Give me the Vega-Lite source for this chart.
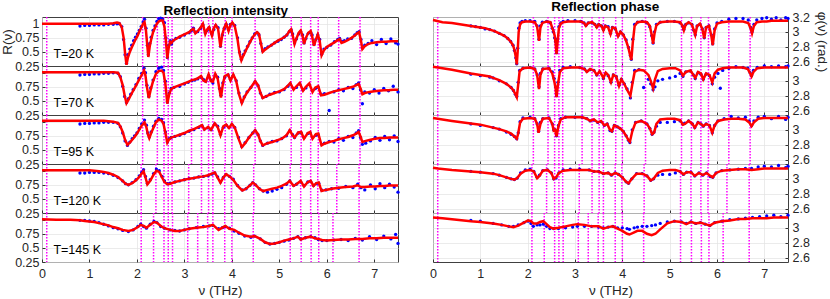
{
"$schema":"https://vega.github.io/schema/vega-lite/v6.json",
"padding":{"left":0,"top":0,"right":0,"bottom":0},
"config":{"font":"Liberation Sans","view":{"stroke":"#404040","strokeWidth":1},
"axis":{"domain":false,"grid":true,"gridColor":"#e3e3e3","gridWidth":0.7,"tickColor":"#333333","tickSize":-3,"labelFontSize":12.5,"labelColor":"#262626","titleFontSize":13.5,"titleFontWeight":"normal","titleColor":"#262626","labelFont":"Liberation Sans","titleFont":"Liberation Sans","labelOverlap":false,"labelFlush":false,"tickCount":12},
"title":{"font":"Liberation Sans"}},
"datasets":{
"modes":[
{"T":20,"f":0.1},{"T":20,"f":2.12},{"T":20,"f":2.43},{"T":20,"f":2.57},{"T":20,"f":2.66},{"T":20,"f":2.74},{"T":20,"f":3.15},{"T":20,"f":3.36},{"T":20,"f":3.51},{"T":20,"f":3.6},{"T":20,"f":3.86},{"T":20,"f":4.0},{"T":20,"f":4.49},{"T":20,"f":5.25},{"T":20,"f":5.46},{"T":20,"f":5.66},{"T":20,"f":5.82},{"T":20,"f":6.25},{"T":20,"f":6.7},
{"T":70,"f":0.1},{"T":70,"f":2.12},{"T":70,"f":2.43},{"T":70,"f":2.57},{"T":70,"f":2.66},{"T":70,"f":2.74},{"T":70,"f":3.15},{"T":70,"f":3.36},{"T":70,"f":3.51},{"T":70,"f":3.6},{"T":70,"f":3.86},{"T":70,"f":4.0},{"T":70,"f":4.49},{"T":70,"f":5.25},{"T":70,"f":5.46},{"T":70,"f":5.66},{"T":70,"f":5.82},{"T":70,"f":6.25},{"T":70,"f":6.7},
{"T":95,"f":0.1},{"T":95,"f":2.12},{"T":95,"f":2.43},{"T":95,"f":2.57},{"T":95,"f":2.66},{"T":95,"f":2.74},{"T":95,"f":3.15},{"T":95,"f":3.36},{"T":95,"f":3.51},{"T":95,"f":3.6},{"T":95,"f":3.86},{"T":95,"f":4.0},{"T":95,"f":4.49},{"T":95,"f":5.25},{"T":95,"f":5.46},{"T":95,"f":5.66},{"T":95,"f":5.82},{"T":95,"f":6.25},{"T":95,"f":6.7},
{"T":120,"f":0.1},{"T":120,"f":2.09},{"T":120,"f":2.4},{"T":120,"f":2.57},{"T":120,"f":2.66},{"T":120,"f":2.74},{"T":120,"f":3.09},{"T":120,"f":3.36},{"T":120,"f":3.51},{"T":120,"f":3.6},{"T":120,"f":3.85},{"T":120,"f":3.99},{"T":120,"f":4.46},{"T":120,"f":5.23},{"T":120,"f":5.45},{"T":120,"f":5.66},{"T":120,"f":5.81},{"T":120,"f":6.21},{"T":120,"f":6.68},
{"T":145,"f":0.1},{"T":145,"f":2.09},{"T":145,"f":2.35},{"T":145,"f":2.57},{"T":145,"f":2.66},{"T":145,"f":2.75},{"T":145,"f":3.07},{"T":145,"f":3.28},{"T":145,"f":3.49},{"T":145,"f":3.6},{"T":145,"f":3.85},{"T":145,"f":4.0},{"T":145,"f":4.45},{"T":145,"f":5.23},{"T":145,"f":5.46},{"T":145,"f":5.67},{"T":145,"f":5.83},{"T":145,"f":6.13},{"T":145,"f":6.68}],
"R":[
{"T":20,"f":0,"v":1},{"T":20,"f":0.2,"v":1},{"T":20,"f":0.4,"v":1},{"T":20,"f":0.6,"v":1},{"T":20,"f":0.8,"v":1,"m":0.96},{"T":20,"f":0.9,"v":1,"m":0.97},{"T":20,"f":1,"v":1,"m":0.97},{"T":20,"f":1.1,"v":1,"m":0.98},{"T":20,"f":1.2,"v":1,"m":0.98},{"T":20,"f":1.3,"v":1,"m":0.98},{"T":20,"f":1.4,"v":1,"m":0.99},{"T":20,"f":1.5,"v":1.01,"m":0.99},{"T":20,"f":1.58,"v":1.02,"m":1},{"T":20,"f":1.63,"v":1.01,"m":1},{"T":20,"f":1.68,"v":0.94,"m":0.95},{"T":20,"f":1.72,"v":0.75,"m":0.72},{"T":20,"f":1.75,"v":0.48,"m":0.45},{"T":20,"f":1.78,"v":0.27,"m":0.3},{"T":20,"f":1.81,"v":0.4,"m":0.45},{"T":20,"f":1.85,"v":0.5,"m":0.55},{"T":20,"f":1.89,"v":0.58,"m":0.62},{"T":20,"f":1.93,"v":0.65,"m":0.7},{"T":20,"f":1.97,"v":0.72,"m":0.76},{"T":20,"f":2.01,"v":0.78,"m":0.82},{"T":20,"f":2.05,"v":0.86,"m":0.88},{"T":20,"f":2.09,"v":0.93,"m":0.95},{"T":20,"f":2.13,"v":1,"m":1.03},{"T":20,"f":2.16,"v":1.03,"m":1.08},{"T":20,"f":2.19,"v":0.88,"m":0.92},{"T":20,"f":2.22,"v":0.6,"m":0.62},{"T":20,"f":2.24,"v":0.41,"m":0.45},{"T":20,"f":2.27,"v":0.6,"m":0.65},{"T":20,"f":2.3,"v":0.72,"m":0.76},{"T":20,"f":2.34,"v":0.85,"m":0.88},{"T":20,"f":2.38,"v":0.93,"m":0.96},{"T":20,"f":2.42,"v":1,"m":1.04},{"T":20,"f":2.46,"v":1.04,"m":1.09},{"T":20,"f":2.5,"v":1.06,"m":1.1},{"T":20,"f":2.54,"v":1.06,"m":1.08},{"T":20,"f":2.58,"v":0.95,"m":1.02},{"T":20,"f":2.61,"v":0.7,"m":0.75},{"T":20,"f":2.64,"v":0.38,"m":0.4},{"T":20,"f":2.67,"v":0.58,"m":0.62},{"T":20,"f":2.7,"v":0.68,"m":0.7},{"T":20,"f":2.73,"v":0.66,"m":0.64},{"T":20,"f":2.76,"v":0.7,"m":0.7},{"T":20,"f":2.82,"v":0.73,"m":0.74},{"T":20,"f":2.9,"v":0.77,"m":0.76},{"T":20,"f":3,"v":0.81,"m":0.8},{"T":20,"f":3.1,"v":0.85,"m":0.84},{"T":20,"f":3.15,"v":0.89,"m":0.88},{"T":20,"f":3.19,"v":0.91,"m":0.92},{"T":20,"f":3.23,"v":0.83,"m":0.85},{"T":20,"f":3.28,"v":0.87,"m":0.86},{"T":20,"f":3.34,"v":0.93,"m":0.92},{"T":20,"f":3.39,"v":1,"m":0.98},{"T":20,"f":3.44,"v":0.82,"m":0.84},{"T":20,"f":3.48,"v":0.9,"m":0.88},{"T":20,"f":3.52,"v":0.94,"m":0.93},{"T":20,"f":3.58,"v":0.79,"m":0.82},{"T":20,"f":3.62,"v":0.92,"m":0.9},{"T":20,"f":3.66,"v":0.98,"m":0.97},{"T":20,"f":3.71,"v":0.91,"m":0.93},{"T":20,"f":3.76,"v":0.58,"m":0.6},{"T":20,"f":3.8,"v":0.82,"m":0.8},{"T":20,"f":3.84,"v":0.93,"m":0.92},{"T":20,"f":3.88,"v":1,"m":0.99},{"T":20,"f":3.93,"v":0.87,"m":0.9},{"T":20,"f":3.97,"v":0.98,"m":0.99},{"T":20,"f":4.01,"v":1.02,"m":1},{"T":20,"f":4.06,"v":0.96,"m":0.97},{"T":20,"f":4.12,"v":0.72,"m":0.75},{"T":20,"f":4.16,"v":0.48,"m":0.5},{"T":20,"f":4.2,"v":0.35,"m":0.37},{"T":20,"f":4.24,"v":0.43,"m":0.45},{"T":20,"f":4.28,"v":0.5,"m":0.52},{"T":20,"f":4.33,"v":0.59,"m":0.6},{"T":20,"f":4.38,"v":0.67,"m":0.68},{"T":20,"f":4.43,"v":0.75,"m":0.75},{"T":20,"f":4.48,"v":0.81,"m":0.82},{"T":20,"f":4.53,"v":0.85,"m":0.84},{"T":20,"f":4.57,"v":0.82,"m":0.8},{"T":20,"f":4.61,"v":0.66,"m":0.65},{"T":20,"f":4.65,"v":0.5,"m":0.52},{"T":20,"f":4.7,"v":0.54,"m":0.56},{"T":20,"f":4.76,"v":0.58,"m":0.59},{"T":20,"f":4.83,"v":0.62,"m":0.62},{"T":20,"f":4.9,"v":0.66,"m":0.66},{"T":20,"f":4.97,"v":0.7,"m":0.69},{"T":20,"f":5.04,"v":0.73,"m":0.72},{"T":20,"f":5.1,"v":0.76,"m":0.76},{"T":20,"f":5.16,"v":0.8,"m":0.8},{"T":20,"f":5.21,"v":0.87,"m":0.86},{"T":20,"f":5.25,"v":0.9,"m":0.89},{"T":20,"f":5.28,"v":0.8,"m":0.82},{"T":20,"f":5.32,"v":0.64,"m":0.66},{"T":20,"f":5.36,"v":0.74,"m":0.73},{"T":20,"f":5.41,"v":0.84,"m":0.82},{"T":20,"f":5.45,"v":0.88,"m":0.86},{"T":20,"f":5.49,"v":0.78,"m":0.8},{"T":20,"f":5.52,"v":0.64,"m":0.66},{"T":20,"f":5.56,"v":0.75,"m":0.74},{"T":20,"f":5.61,"v":0.84,"m":0.83},{"T":20,"f":5.66,"v":0.87,"m":0.85},{"T":20,"f":5.69,"v":0.78,"m":0.8},{"T":20,"f":5.73,"v":0.61,"m":0.63},{"T":20,"f":5.77,"v":0.72,"m":0.72},{"T":20,"f":5.81,"v":0.81,"m":0.8},{"T":20,"f":5.85,"v":0.7,"m":0.72},{"T":20,"f":5.89,"v":0.44,"m":0.46},{"T":20,"f":5.94,"v":0.53,"m":0.55},{"T":20,"f":6,"v":0.59,"m":0.58},{"T":20,"f":6.08,"v":0.63,"m":0.62},{"T":20,"f":6.16,"v":0.67,"m":0.68},{"T":20,"f":6.23,"v":0.71,"m":0.72},{"T":20,"f":6.27,"v":0.73,"m":0.74},{"T":20,"f":6.31,"v":0.66,"m":0.69},{"T":20,"f":6.37,"v":0.68,"m":0.7},{"T":20,"f":6.44,"v":0.71,"m":0.73},{"T":20,"f":6.52,"v":0.75,"m":0.74},{"T":20,"f":6.59,"v":0.79,"m":0.8},{"T":20,"f":6.64,"v":0.83,"m":0.84},{"T":20,"f":6.68,"v":0.85,"m":0.86},{"T":20,"f":6.72,"v":0.7,"m":0.72},{"T":20,"f":6.75,"v":0.55,"m":0.57},{"T":20,"f":6.8,"v":0.6,"m":0.62},{"T":20,"f":6.87,"v":0.64,"m":0.65},{"T":20,"f":6.95,"v":0.66,"m":0.7},{"T":20,"f":7.05,"v":0.67,"m":0.63},{"T":20,"f":7.15,"v":0.68,"m":0.72},{"T":20,"f":7.25,"v":0.68,"m":0.65},{"T":20,"f":7.35,"v":0.69,"m":0.73},{"T":20,"f":7.45,"v":0.69,"m":0.66},{"T":20,"f":7.5,"v":0.69,"m":0.64},
{"T":70,"f":0,"v":1.01},{"T":70,"f":0.3,"v":1.01},{"T":70,"f":0.6,"v":1.01},{"T":70,"f":0.8,"v":1.01,"m":0.96},{"T":70,"f":0.9,"v":1.01,"m":0.97},{"T":70,"f":1,"v":1.01,"m":0.97},{"T":70,"f":1.1,"v":1.01,"m":0.98},{"T":70,"f":1.2,"v":1.01,"m":0.98},{"T":70,"f":1.3,"v":1.01,"m":0.99},{"T":70,"f":1.4,"v":1.01,"m":0.99},{"T":70,"f":1.5,"v":1.01,"m":1},{"T":70,"f":1.6,"v":1,"m":0.99},{"T":70,"f":1.65,"v":0.92,"m":0.93},{"T":70,"f":1.7,"v":0.78,"m":0.76},{"T":70,"f":1.74,"v":0.6,"m":0.58},{"T":70,"f":1.78,"v":0.46,"m":0.47},{"T":70,"f":1.82,"v":0.52,"m":0.54},{"T":70,"f":1.87,"v":0.6,"m":0.62},{"T":70,"f":1.92,"v":0.68,"m":0.7},{"T":70,"f":1.98,"v":0.77,"m":0.79},{"T":70,"f":2.04,"v":0.87,"m":0.9},{"T":70,"f":2.1,"v":0.96,"m":0.99},{"T":70,"f":2.15,"v":1.04,"m":1.08},{"T":70,"f":2.18,"v":0.95,"m":1},{"T":70,"f":2.21,"v":0.75,"m":0.78},{"T":70,"f":2.25,"v":0.55,"m":0.58},{"T":70,"f":2.29,"v":0.7,"m":0.73},{"T":70,"f":2.34,"v":0.85,"m":0.87},{"T":70,"f":2.4,"v":0.98,"m":1.02},{"T":70,"f":2.46,"v":1.03,"m":1.08},{"T":70,"f":2.52,"v":1.04,"m":1.1},{"T":70,"f":2.56,"v":1,"m":1.04},{"T":70,"f":2.6,"v":0.8,"m":0.85},{"T":70,"f":2.64,"v":0.45,"m":0.48},{"T":70,"f":2.68,"v":0.62,"m":0.64},{"T":70,"f":2.72,"v":0.71,"m":0.72},{"T":70,"f":2.78,"v":0.74,"m":0.74},{"T":70,"f":2.9,"v":0.78,"m":0.76},{"T":70,"f":3,"v":0.81,"m":0.8},{"T":70,"f":3.08,"v":0.84,"m":0.83},{"T":70,"f":3.16,"v":0.87,"m":0.86},{"T":70,"f":3.22,"v":0.88,"m":0.87},{"T":70,"f":3.28,"v":0.9,"m":0.89},{"T":70,"f":3.35,"v":0.94,"m":0.92},{"T":70,"f":3.4,"v":0.86,"m":0.88},{"T":70,"f":3.45,"v":0.84,"m":0.85},{"T":70,"f":3.51,"v":0.97,"m":0.95},{"T":70,"f":3.56,"v":0.85,"m":0.87},{"T":70,"f":3.6,"v":0.84,"m":0.82},{"T":70,"f":3.65,"v":0.98,"m":0.96},{"T":70,"f":3.7,"v":0.9,"m":0.92},{"T":70,"f":3.74,"v":0.7,"m":0.72},{"T":70,"f":3.77,"v":0.56,"m":0.6},{"T":70,"f":3.81,"v":0.8,"m":0.82},{"T":70,"f":3.85,"v":0.94,"m":0.92},{"T":70,"f":3.92,"v":0.97,"m":0.96},{"T":70,"f":3.97,"v":0.86,"m":0.88},{"T":70,"f":4.03,"v":0.97,"m":0.95},{"T":70,"f":4.09,"v":0.86,"m":0.86},{"T":70,"f":4.15,"v":0.62,"m":0.64},{"T":70,"f":4.21,"v":0.46,"m":0.48},{"T":70,"f":4.26,"v":0.56,"m":0.57},{"T":70,"f":4.32,"v":0.65,"m":0.66},{"T":70,"f":4.4,"v":0.74,"m":0.74},{"T":70,"f":4.49,"v":0.85,"m":0.84},{"T":70,"f":4.55,"v":0.78,"m":0.77},{"T":70,"f":4.6,"v":0.65,"m":0.64},{"T":70,"f":4.65,"v":0.55,"m":0.56},{"T":70,"f":4.72,"v":0.58,"m":0.58},{"T":70,"f":4.8,"v":0.61,"m":0.62},{"T":70,"f":4.9,"v":0.64,"m":0.65},{"T":70,"f":5,"v":0.67,"m":0.66},{"T":70,"f":5.1,"v":0.71,"m":0.7},{"T":70,"f":5.18,"v":0.77,"m":0.76},{"T":70,"f":5.23,"v":0.82,"m":0.8},{"T":70,"f":5.3,"v":0.7,"m":0.72},{"T":70,"f":5.36,"v":0.76,"m":0.74},{"T":70,"f":5.43,"v":0.82,"m":0.8},{"T":70,"f":5.5,"v":0.68,"m":0.7},{"T":70,"f":5.56,"v":0.75,"m":0.73},{"T":70,"f":5.63,"v":0.81,"m":0.79},{"T":70,"f":5.7,"v":0.66,"m":0.68},{"T":70,"f":5.76,"v":0.74,"m":0.72},{"T":70,"f":5.82,"v":0.76,"m":0.74},{"T":70,"f":5.88,"v":0.6,"m":0.62},{"T":70,"f":5.95,"v":0.61,"m":0.63},{"T":70,"f":6.05,"v":0.64,"m":0.33},{"T":70,"f":6.15,"v":0.67,"m":0.66},{"T":70,"f":6.25,"v":0.69,"m":0.7},{"T":70,"f":6.35,"v":0.71,"m":0.68},{"T":70,"f":6.45,"v":0.73,"m":0.74},{"T":70,"f":6.55,"v":0.75,"m":0.72},{"T":70,"f":6.62,"v":0.78,"m":0.79},{"T":70,"f":6.67,"v":0.8,"m":0.82},{"T":70,"f":6.71,"v":0.72,"m":0.7},{"T":70,"f":6.75,"v":0.62,"m":0.45},{"T":70,"f":6.8,"v":0.64,"m":0.66},{"T":70,"f":6.9,"v":0.66,"m":0.64},{"T":70,"f":7,"v":0.67,"m":0.7},{"T":70,"f":7.1,"v":0.68,"m":0.64},{"T":70,"f":7.2,"v":0.69,"m":0.72},{"T":70,"f":7.3,"v":0.69,"m":0.68},{"T":70,"f":7.4,"v":0.7,"m":0.76},{"T":70,"f":7.5,"v":0.7,"m":0.66},
{"T":95,"f":0,"v":1.02},{"T":95,"f":0.3,"v":1.02},{"T":95,"f":0.6,"v":1.02},{"T":95,"f":0.8,"v":1.02,"m":0.96},{"T":95,"f":0.9,"v":1.02,"m":0.97},{"T":95,"f":1,"v":1.02,"m":0.97},{"T":95,"f":1.1,"v":1.02,"m":0.98},{"T":95,"f":1.2,"v":1.02,"m":0.98},{"T":95,"f":1.3,"v":1.02,"m":0.99},{"T":95,"f":1.4,"v":1.01,"m":0.99},{"T":95,"f":1.5,"v":1,"m":0.99},{"T":95,"f":1.6,"v":0.98,"m":0.97},{"T":95,"f":1.65,"v":0.92,"m":0.91},{"T":95,"f":1.7,"v":0.82,"m":0.8},{"T":95,"f":1.75,"v":0.68,"m":0.66},{"T":95,"f":1.8,"v":0.59,"m":0.58},{"T":95,"f":1.85,"v":0.63,"m":0.64},{"T":95,"f":1.9,"v":0.68,"m":0.7},{"T":95,"f":1.95,"v":0.73,"m":0.75},{"T":95,"f":2,"v":0.79,"m":0.8},{"T":95,"f":2.05,"v":0.86,"m":0.88},{"T":95,"f":2.1,"v":0.93,"m":0.96},{"T":95,"f":2.16,"v":0.99,"m":1.03},{"T":95,"f":2.2,"v":0.9,"m":0.94},{"T":95,"f":2.23,"v":0.78,"m":0.8},{"T":95,"f":2.26,"v":0.71,"m":0.73},{"T":95,"f":2.3,"v":0.8,"m":0.82},{"T":95,"f":2.35,"v":0.9,"m":0.92},{"T":95,"f":2.4,"v":0.99,"m":1.01},{"T":95,"f":2.46,"v":1.04,"m":1.06},{"T":95,"f":2.52,"v":1.02,"m":1.04},{"T":95,"f":2.56,"v":0.96,"m":0.98},{"T":95,"f":2.6,"v":0.8,"m":0.82},{"T":95,"f":2.64,"v":0.63,"m":0.64},{"T":95,"f":2.68,"v":0.69,"m":0.7},{"T":95,"f":2.72,"v":0.72,"m":0.72},{"T":95,"f":2.8,"v":0.74,"m":0.74},{"T":95,"f":2.9,"v":0.77,"m":0.76},{"T":95,"f":3,"v":0.8,"m":0.79},{"T":95,"f":3.1,"v":0.84,"m":0.83},{"T":95,"f":3.2,"v":0.87,"m":0.86},{"T":95,"f":3.3,"v":0.91,"m":0.9},{"T":95,"f":3.37,"v":0.94,"m":0.93},{"T":95,"f":3.42,"v":0.86,"m":0.87},{"T":95,"f":3.5,"v":0.91,"m":0.89},{"T":95,"f":3.56,"v":0.86,"m":0.86},{"T":95,"f":3.64,"v":0.97,"m":0.96},{"T":95,"f":3.7,"v":0.91,"m":0.92},{"T":95,"f":3.76,"v":0.76,"m":0.78},{"T":95,"f":3.82,"v":0.92,"m":0.9},{"T":95,"f":3.88,"v":0.95,"m":0.94},{"T":95,"f":3.94,"v":0.89,"m":0.9},{"T":95,"f":4,"v":0.96,"m":0.95},{"T":95,"f":4.06,"v":0.9,"m":0.9},{"T":95,"f":4.14,"v":0.7,"m":0.72},{"T":95,"f":4.21,"v":0.55,"m":0.56},{"T":95,"f":4.28,"v":0.62,"m":0.63},{"T":95,"f":4.36,"v":0.72,"m":0.72},{"T":95,"f":4.44,"v":0.8,"m":0.8},{"T":95,"f":4.49,"v":0.85,"m":0.84},{"T":95,"f":4.55,"v":0.78,"m":0.77},{"T":95,"f":4.6,"v":0.66,"m":0.66},{"T":95,"f":4.65,"v":0.58,"m":0.58},{"T":95,"f":4.75,"v":0.62,"m":0.62},{"T":95,"f":4.85,"v":0.64,"m":0.65},{"T":95,"f":4.95,"v":0.67,"m":0.66},{"T":95,"f":5.05,"v":0.7,"m":0.7},{"T":95,"f":5.15,"v":0.76,"m":0.75},{"T":95,"f":5.22,"v":0.85,"m":0.84},{"T":95,"f":5.28,"v":0.76,"m":0.77},{"T":95,"f":5.32,"v":0.72,"m":0.72},{"T":95,"f":5.4,"v":0.81,"m":0.8},{"T":95,"f":5.46,"v":0.82,"m":0.8},{"T":95,"f":5.52,"v":0.7,"m":0.72},{"T":95,"f":5.6,"v":0.8,"m":0.79},{"T":95,"f":5.65,"v":0.82,"m":0.8},{"T":95,"f":5.7,"v":0.7,"m":0.72},{"T":95,"f":5.77,"v":0.78,"m":0.76},{"T":95,"f":5.82,"v":0.79,"m":0.77},{"T":95,"f":5.89,"v":0.58,"m":0.6},{"T":95,"f":5.95,"v":0.61,"m":0.62},{"T":95,"f":6.05,"v":0.64,"m":0.65},{"T":95,"f":6.15,"v":0.66,"m":0.64},{"T":95,"f":6.25,"v":0.69,"m":0.7},{"T":95,"f":6.35,"v":0.71,"m":0.67},{"T":95,"f":6.45,"v":0.73,"m":0.74},{"T":95,"f":6.55,"v":0.76,"m":0.72},{"T":95,"f":6.62,"v":0.79,"m":0.8},{"T":95,"f":6.67,"v":0.82,"m":0.84},{"T":95,"f":6.71,"v":0.74,"m":0.72},{"T":95,"f":6.75,"v":0.64,"m":0.6},{"T":95,"f":6.82,"v":0.66,"m":0.62},{"T":95,"f":6.92,"v":0.68,"m":0.66},{"T":95,"f":7.02,"v":0.7,"m":0.72},{"T":95,"f":7.12,"v":0.71,"m":0.67},{"T":95,"f":7.22,"v":0.71,"m":0.74},{"T":95,"f":7.32,"v":0.72,"m":0.68},{"T":95,"f":7.42,"v":0.72,"m":0.75},{"T":95,"f":7.5,"v":0.72,"m":0.65},
{"T":120,"f":0,"v":1.01},{"T":120,"f":0.3,"v":1.01},{"T":120,"f":0.6,"v":1.01},{"T":120,"f":0.8,"v":1.01,"m":0.96},{"T":120,"f":0.9,"v":1.01,"m":0.96},{"T":120,"f":1,"v":1.01,"m":0.97},{"T":120,"f":1.1,"v":1,"m":0.97},{"T":120,"f":1.2,"v":0.99,"m":0.97},{"T":120,"f":1.3,"v":0.98,"m":0.96},{"T":120,"f":1.4,"v":0.96,"m":0.95},{"T":120,"f":1.5,"v":0.93,"m":0.92},{"T":120,"f":1.6,"v":0.89,"m":0.88},{"T":120,"f":1.7,"v":0.82,"m":0.82},{"T":120,"f":1.76,"v":0.77,"m":0.77},{"T":120,"f":1.82,"v":0.75,"m":0.75},{"T":120,"f":1.9,"v":0.78,"m":0.79},{"T":120,"f":1.98,"v":0.83,"m":0.84},{"T":120,"f":2.05,"v":0.89,"m":0.91},{"T":120,"f":2.1,"v":0.95,"m":0.97},{"T":120,"f":2.14,"v":0.99,"m":1.02},{"T":120,"f":2.18,"v":0.88,"m":0.9},{"T":120,"f":2.22,"v":0.76,"m":0.78},{"T":120,"f":2.28,"v":0.82,"m":0.84},{"T":120,"f":2.35,"v":0.93,"m":0.95},{"T":120,"f":2.41,"v":1,"m":1.03},{"T":120,"f":2.47,"v":0.98,"m":1},{"T":120,"f":2.53,"v":0.88,"m":0.9},{"T":120,"f":2.58,"v":0.8,"m":0.82},{"T":120,"f":2.64,"v":0.76,"m":0.77},{"T":120,"f":2.7,"v":0.77,"m":0.78},{"T":120,"f":2.8,"v":0.8,"m":0.8},{"T":120,"f":2.9,"v":0.82,"m":0.82},{"T":120,"f":3,"v":0.84,"m":0.84},{"T":120,"f":3.1,"v":0.86,"m":0.86},{"T":120,"f":3.2,"v":0.87,"m":0.87},{"T":120,"f":3.3,"v":0.89,"m":0.89},{"T":120,"f":3.4,"v":0.9,"m":0.9},{"T":120,"f":3.5,"v":0.92,"m":0.91},{"T":120,"f":3.58,"v":0.95,"m":0.94},{"T":120,"f":3.64,"v":0.97,"m":0.96},{"T":120,"f":3.7,"v":0.88,"m":0.89},{"T":120,"f":3.76,"v":0.79,"m":0.8},{"T":120,"f":3.82,"v":0.88,"m":0.88},{"T":120,"f":3.88,"v":0.94,"m":0.93},{"T":120,"f":3.95,"v":0.9,"m":0.9},{"T":120,"f":4.03,"v":0.84,"m":0.85},{"T":120,"f":4.12,"v":0.73,"m":0.74},{"T":120,"f":4.22,"v":0.65,"m":0.66},{"T":120,"f":4.3,"v":0.68,"m":0.68},{"T":120,"f":4.38,"v":0.74,"m":0.74},{"T":120,"f":4.44,"v":0.79,"m":0.79},{"T":120,"f":4.5,"v":0.75,"m":0.75},{"T":120,"f":4.58,"v":0.68,"m":0.68},{"T":120,"f":4.66,"v":0.64,"m":0.64},{"T":120,"f":4.75,"v":0.66,"m":0.62},{"T":120,"f":4.85,"v":0.68,"m":0.64},{"T":120,"f":4.95,"v":0.7,"m":0.67},{"T":120,"f":5.05,"v":0.73,"m":0.7},{"T":120,"f":5.15,"v":0.77,"m":0.76},{"T":120,"f":5.22,"v":0.82,"m":0.82},{"T":120,"f":5.3,"v":0.73,"m":0.74},{"T":120,"f":5.36,"v":0.76,"m":0.76},{"T":120,"f":5.45,"v":0.82,"m":0.8},{"T":120,"f":5.52,"v":0.72,"m":0.74},{"T":120,"f":5.6,"v":0.8,"m":0.8},{"T":120,"f":5.66,"v":0.82,"m":0.81},{"T":120,"f":5.72,"v":0.73,"m":0.74},{"T":120,"f":5.78,"v":0.78,"m":0.77},{"T":120,"f":5.83,"v":0.79,"m":0.78},{"T":120,"f":5.89,"v":0.64,"m":0.66},{"T":120,"f":5.98,"v":0.66,"m":0.66},{"T":120,"f":6.1,"v":0.68,"m":0.68},{"T":120,"f":6.25,"v":0.7,"m":0.69},{"T":120,"f":6.4,"v":0.71,"m":0.72},{"T":120,"f":6.55,"v":0.72,"m":0.7},{"T":120,"f":6.65,"v":0.74,"m":0.76},{"T":120,"f":6.72,"v":0.71,"m":0.7},{"T":120,"f":6.8,"v":0.71,"m":0.66},{"T":120,"f":6.92,"v":0.72,"m":0.75},{"T":120,"f":7.02,"v":0.72,"m":0.68},{"T":120,"f":7.12,"v":0.73,"m":0.77},{"T":120,"f":7.22,"v":0.73,"m":0.7},{"T":120,"f":7.32,"v":0.74,"m":0.76},{"T":120,"f":7.42,"v":0.74,"m":0.71},{"T":120,"f":7.5,"v":0.74,"m":0.62},
{"T":145,"f":0,"v":1.01},{"T":145,"f":0.3,"v":1},{"T":145,"f":0.6,"v":1},{"T":145,"f":0.8,"v":0.99,"m":0.99},{"T":145,"f":0.9,"v":0.98,"m":0.99},{"T":145,"f":1,"v":0.97,"m":0.98},{"T":145,"f":1.1,"v":0.96,"m":0.97},{"T":145,"f":1.2,"v":0.94,"m":0.95},{"T":145,"f":1.3,"v":0.92,"m":0.92},{"T":145,"f":1.4,"v":0.9,"m":0.89},{"T":145,"f":1.5,"v":0.87,"m":0.86},{"T":145,"f":1.6,"v":0.85,"m":0.84},{"T":145,"f":1.7,"v":0.82,"m":0.81},{"T":145,"f":1.82,"v":0.8,"m":0.79},{"T":145,"f":1.92,"v":0.82,"m":0.82},{"T":145,"f":2.02,"v":0.87,"m":0.88},{"T":145,"f":2.08,"v":0.91,"m":0.92},{"T":145,"f":2.14,"v":0.89,"m":0.88},{"T":145,"f":2.2,"v":0.86,"m":0.85},{"T":145,"f":2.28,"v":0.91,"m":0.92},{"T":145,"f":2.36,"v":0.96,"m":0.97},{"T":145,"f":2.42,"v":0.95,"m":0.95},{"T":145,"f":2.5,"v":0.89,"m":0.88},{"T":145,"f":2.58,"v":0.85,"m":0.85},{"T":145,"f":2.7,"v":0.82,"m":0.82},{"T":145,"f":2.8,"v":0.8,"m":0.81},{"T":145,"f":2.9,"v":0.8,"m":0.8},{"T":145,"f":3,"v":0.82,"m":0.82},{"T":145,"f":3.1,"v":0.84,"m":0.84},{"T":145,"f":3.25,"v":0.86,"m":0.86},{"T":145,"f":3.4,"v":0.87,"m":0.88},{"T":145,"f":3.52,"v":0.89,"m":0.89},{"T":145,"f":3.6,"v":0.91,"m":0.9},{"T":145,"f":3.72,"v":0.82,"m":0.84},{"T":145,"f":3.8,"v":0.86,"m":0.86},{"T":145,"f":3.86,"v":0.89,"m":0.88},{"T":145,"f":3.95,"v":0.84,"m":0.85},{"T":145,"f":4.05,"v":0.82,"m":0.8},{"T":145,"f":4.15,"v":0.77,"m":0.76},{"T":145,"f":4.27,"v":0.72,"m":0.71},{"T":145,"f":4.4,"v":0.7,"m":0.69},{"T":145,"f":4.48,"v":0.71,"m":0.71},{"T":145,"f":4.6,"v":0.66,"m":0.66},{"T":145,"f":4.7,"v":0.6,"m":0.6},{"T":145,"f":4.8,"v":0.57,"m":0.57},{"T":145,"f":4.9,"v":0.58,"m":0.58},{"T":145,"f":5,"v":0.6,"m":0.6},{"T":145,"f":5.1,"v":0.63,"m":0.62},{"T":145,"f":5.2,"v":0.65,"m":0.64},{"T":145,"f":5.3,"v":0.67,"m":0.67},{"T":145,"f":5.39,"v":0.7,"m":0.7},{"T":145,"f":5.45,"v":0.65,"m":0.66},{"T":145,"f":5.55,"v":0.68,"m":0.68},{"T":145,"f":5.66,"v":0.7,"m":0.7},{"T":145,"f":5.75,"v":0.67,"m":0.68},{"T":145,"f":5.82,"v":0.66,"m":0.65},{"T":145,"f":5.9,"v":0.64,"m":0.63},{"T":145,"f":6,"v":0.63,"m":0.63},{"T":145,"f":6.15,"v":0.64,"m":0.64},{"T":145,"f":6.3,"v":0.65,"m":0.65},{"T":145,"f":6.45,"v":0.65,"m":0.63},{"T":145,"f":6.6,"v":0.66,"m":0.67},{"T":145,"f":6.75,"v":0.66,"m":0.64},{"T":145,"f":6.9,"v":0.67,"m":0.7},{"T":145,"f":7.05,"v":0.67,"m":0.65},{"T":145,"f":7.2,"v":0.68,"m":0.71},{"T":145,"f":7.35,"v":0.68,"m":0.66},{"T":145,"f":7.45,"v":0.68,"m":0.74},{"T":145,"f":7.5,"v":0.68,"m":0.58}],
"P":[
{"T":20,"f":0,"v":3.16},{"T":20,"f":0.2,"v":3.13},{"T":20,"f":0.4,"v":3.12},{"T":20,"f":0.6,"v":3.1},{"T":20,"f":0.8,"v":3.08,"m":3.08},{"T":20,"f":0.9,"v":3.07,"m":3.07},{"T":20,"f":1,"v":3.06,"m":3.06},{"T":20,"f":1.1,"v":3.05,"m":3.04},{"T":20,"f":1.2,"v":3.03,"m":3.03},{"T":20,"f":1.3,"v":3.01,"m":3.01},{"T":20,"f":1.4,"v":2.98,"m":2.98},{"T":20,"f":1.5,"v":2.95,"m":2.95},{"T":20,"f":1.58,"v":2.91,"m":2.91},{"T":20,"f":1.64,"v":2.87,"m":2.87},{"T":20,"f":1.69,"v":2.82,"m":2.82},{"T":20,"f":1.72,"v":2.76,"m":2.75},{"T":20,"f":1.75,"v":2.66,"m":2.65},{"T":20,"f":1.77,"v":2.56,"m":2.57},{"T":20,"f":1.79,"v":2.75,"m":2.78},{"T":20,"f":1.81,"v":3,"m":3.05},{"T":20,"f":1.84,"v":3.1,"m":3.12},{"T":20,"f":1.88,"v":3.13,"m":3.14},{"T":20,"f":1.95,"v":3.14,"m":3.15},{"T":20,"f":2.05,"v":3.14,"m":3.15},{"T":20,"f":2.15,"v":3.13,"m":3.14},{"T":20,"f":2.2,"v":3.07,"m":3.08},{"T":20,"f":2.24,"v":2.88,"m":2.9},{"T":20,"f":2.27,"v":3.06,"m":3.08},{"T":20,"f":2.31,"v":3.12,"m":3.13},{"T":20,"f":2.4,"v":3.14,"m":3.14},{"T":20,"f":2.48,"v":3.13,"m":3.12},{"T":20,"f":2.52,"v":3.05,"m":3.05},{"T":20,"f":2.54,"v":3.02,"m":3},{"T":20,"f":2.57,"v":2.95,"m":2.92},{"T":20,"f":2.59,"v":2.85,"m":2.87},{"T":20,"f":2.61,"v":2.7,"m":2.72},{"T":20,"f":2.63,"v":2.85,"m":2.9},{"T":20,"f":2.66,"v":3.05,"m":3.07},{"T":20,"f":2.7,"v":3.11,"m":3.12},{"T":20,"f":2.75,"v":3.13,"m":3.14},{"T":20,"f":2.85,"v":3.14,"m":3.15},{"T":20,"f":3,"v":3.14,"m":3.15},{"T":20,"f":3.12,"v":3.14,"m":3.14},{"T":20,"f":3.19,"v":3.12,"m":3.12},{"T":20,"f":3.23,"v":3.08,"m":3.09},{"T":20,"f":3.28,"v":3.12,"m":3.12},{"T":20,"f":3.36,"v":3.13,"m":3.12},{"T":20,"f":3.42,"v":3.1,"m":3.1},{"T":20,"f":3.46,"v":3.06,"m":3.07},{"T":20,"f":3.5,"v":3.1,"m":3.1},{"T":20,"f":3.56,"v":3.08,"m":3.08},{"T":20,"f":3.6,"v":3.02,"m":3.03},{"T":20,"f":3.64,"v":3.08,"m":3.08},{"T":20,"f":3.7,"v":3.06,"m":3.07},{"T":20,"f":3.75,"v":2.97,"m":2.98},{"T":20,"f":3.79,"v":3.06,"m":3.06},{"T":20,"f":3.85,"v":3.05,"m":3.04},{"T":20,"f":3.91,"v":2.94,"m":2.95},{"T":20,"f":3.96,"v":3,"m":3},{"T":20,"f":4.02,"v":2.96,"m":2.96},{"T":20,"f":4.08,"v":2.88,"m":2.89},{"T":20,"f":4.13,"v":2.78,"m":2.79},{"T":20,"f":4.17,"v":2.67,"m":2.68},{"T":20,"f":4.19,"v":2.62,"m":2.63},{"T":20,"f":4.22,"v":2.85,"m":2.9},{"T":20,"f":4.26,"v":3.08,"m":3.1},{"T":20,"f":4.32,"v":3.13,"m":3.13},{"T":20,"f":4.42,"v":3.14,"m":3.14},{"T":20,"f":4.52,"v":3.13,"m":3.12},{"T":20,"f":4.58,"v":3.08,"m":3.07},{"T":20,"f":4.62,"v":2.96,"m":2.95},{"T":20,"f":4.65,"v":2.84,"m":2.85},{"T":20,"f":4.68,"v":2.98,"m":3},{"T":20,"f":4.72,"v":3.09,"m":3.1},{"T":20,"f":4.8,"v":3.13,"m":3.13},{"T":20,"f":4.95,"v":3.14,"m":3.14},{"T":20,"f":5.1,"v":3.14,"m":3.14},{"T":20,"f":5.22,"v":3.13,"m":3.12},{"T":20,"f":5.27,"v":3.08,"m":3.08},{"T":20,"f":5.3,"v":3.02,"m":3.03},{"T":20,"f":5.34,"v":3.1,"m":3.1},{"T":20,"f":5.4,"v":3.13,"m":3.12},{"T":20,"f":5.47,"v":3.1,"m":3.1},{"T":20,"f":5.51,"v":3.02,"m":3.02},{"T":20,"f":5.54,"v":2.96,"m":2.96},{"T":20,"f":5.58,"v":3.08,"m":3.08},{"T":20,"f":5.64,"v":3.11,"m":3.1},{"T":20,"f":5.69,"v":3.04,"m":3.04},{"T":20,"f":5.73,"v":2.91,"m":2.92},{"T":20,"f":5.77,"v":3.06,"m":3.06},{"T":20,"f":5.83,"v":3.08,"m":3.08},{"T":20,"f":5.88,"v":2.95,"m":2.96},{"T":20,"f":5.91,"v":2.82,"m":2.84},{"T":20,"f":5.95,"v":3.02,"m":3.04},{"T":20,"f":6,"v":3.11,"m":3.12},{"T":20,"f":6.1,"v":3.13,"m":3.14},{"T":20,"f":6.25,"v":3.14,"m":3.17},{"T":20,"f":6.4,"v":3.14,"m":3.18},{"T":20,"f":6.55,"v":3.14,"m":3.18},{"T":20,"f":6.66,"v":3.12,"m":3.16},{"T":20,"f":6.71,"v":3.05,"m":3.06},{"T":20,"f":6.74,"v":2.98,"m":3},{"T":20,"f":6.78,"v":3.08,"m":3.1},{"T":20,"f":6.84,"v":3.13,"m":3.16},{"T":20,"f":6.95,"v":3.14,"m":3.18},{"T":20,"f":7.05,"v":3.14,"m":3.19},{"T":20,"f":7.15,"v":3.15,"m":3.17},{"T":20,"f":7.25,"v":3.15,"m":3.19},{"T":20,"f":7.35,"v":3.15,"m":3.16},{"T":20,"f":7.45,"v":3.15,"m":3.19},{"T":20,"f":7.5,"v":3.15,"m":3.18},
{"T":70,"f":0,"v":3.19},{"T":70,"f":0.1,"v":3.18},{"T":70,"f":0.4,"v":3.15},{"T":70,"f":0.8,"v":3.1,"m":3.09},{"T":70,"f":1,"v":3.08,"m":3.07},{"T":70,"f":1.2,"v":3.06,"m":3.05},{"T":70,"f":1.27,"v":3.04,"m":3.04},{"T":70,"f":1.4,"v":3.01,"m":3},{"T":70,"f":1.55,"v":2.96,"m":2.96},{"T":70,"f":1.65,"v":2.91,"m":2.91},{"T":70,"f":1.7,"v":2.87,"m":2.87},{"T":70,"f":1.74,"v":2.82,"m":2.82},{"T":70,"f":1.77,"v":2.78,"m":2.79},{"T":70,"f":1.8,"v":2.95,"m":2.98},{"T":70,"f":1.83,"v":3.13,"m":3.14},{"T":70,"f":1.9,"v":3.17,"m":3.17},{"T":70,"f":2.05,"v":3.18,"m":3.18},{"T":70,"f":2.15,"v":3.16,"m":3.16},{"T":70,"f":2.2,"v":3.08,"m":3.08},{"T":70,"f":2.24,"v":2.89,"m":2.92},{"T":70,"f":2.27,"v":3.08,"m":3.1},{"T":70,"f":2.32,"v":3.16,"m":3.16},{"T":70,"f":2.45,"v":3.17,"m":3.17},{"T":70,"f":2.52,"v":3.1,"m":3.12},{"T":70,"f":2.56,"v":3,"m":3.03},{"T":70,"f":2.59,"v":2.9,"m":2.92},{"T":70,"f":2.61,"v":2.78,"m":2.8},{"T":70,"f":2.64,"v":2.95,"m":2.98},{"T":70,"f":2.68,"v":3.12,"m":3.14},{"T":70,"f":2.75,"v":3.17,"m":3.18},{"T":70,"f":2.9,"v":3.18,"m":3.19},{"T":70,"f":3.1,"v":3.18,"m":3.18},{"T":70,"f":3.2,"v":3.16,"m":3.16},{"T":70,"f":3.25,"v":3.12,"m":3.13},{"T":70,"f":3.32,"v":3.16,"m":3.15},{"T":70,"f":3.4,"v":3.14,"m":3.14},{"T":70,"f":3.46,"v":3.08,"m":3.08},{"T":70,"f":3.52,"v":3.13,"m":3.12},{"T":70,"f":3.6,"v":3.04,"m":3.03},{"T":70,"f":3.65,"v":3.11,"m":3.1},{"T":70,"f":3.7,"v":3.08,"m":3.07},{"T":70,"f":3.76,"v":2.98,"m":2.98},{"T":70,"f":3.81,"v":3.08,"m":3.08},{"T":70,"f":3.87,"v":3.06,"m":3.06},{"T":70,"f":3.93,"v":2.93,"m":2.94},{"T":70,"f":3.98,"v":3.02,"m":3.02},{"T":70,"f":4.04,"v":2.96,"m":2.96},{"T":70,"f":4.1,"v":2.88,"m":2.89},{"T":70,"f":4.17,"v":2.8,"m":2.77},{"T":70,"f":4.21,"v":2.95,"m":2.98},{"T":70,"f":4.26,"v":3.12,"m":3.14},{"T":70,"f":4.35,"v":3.15,"m":3.15},{"T":70,"f":4.45,"v":3.14,"m":2.91},{"T":70,"f":4.55,"v":3.08,"m":3.02},{"T":70,"f":4.6,"v":3,"m":2.96},{"T":70,"f":4.65,"v":2.9,"m":2.88},{"T":70,"f":4.69,"v":3.02,"m":2.92},{"T":70,"f":4.75,"v":3.13,"m":3},{"T":70,"f":4.85,"v":3.16,"m":3.02},{"T":70,"f":5,"v":3.17,"m":3.04},{"T":70,"f":5.12,"v":3.17,"m":3.06},{"T":70,"f":5.22,"v":3.14,"m":3.1},{"T":70,"f":5.28,"v":3.07,"m":3.06},{"T":70,"f":5.34,"v":3.12,"m":3.12},{"T":70,"f":5.44,"v":3.14,"m":3.13},{"T":70,"f":5.5,"v":3.08,"m":3.08},{"T":70,"f":5.54,"v":3.04,"m":3.03},{"T":70,"f":5.6,"v":3.12,"m":3.11},{"T":70,"f":5.66,"v":3.1,"m":3.09},{"T":70,"f":5.71,"v":3.02,"m":3.02},{"T":70,"f":5.77,"v":3.1,"m":3.09},{"T":70,"f":5.84,"v":3.08,"m":3.07},{"T":70,"f":5.9,"v":2.98,"m":2.96},{"T":70,"f":5.95,"v":3.1,"m":3.05},{"T":70,"f":6.02,"v":3.15,"m":3.1},{"T":70,"f":6.07,"v":3.16,"m":2.9},{"T":70,"f":6.12,"v":3.17,"m":3.14},{"T":70,"f":6.25,"v":3.18,"m":3.17},{"T":70,"f":6.4,"v":3.18,"m":3.19},{"T":70,"f":6.55,"v":3.18,"m":3.18},{"T":70,"f":6.65,"v":3.16,"m":3.17},{"T":70,"f":6.7,"v":3.1,"m":3.11},{"T":70,"f":6.73,"v":3.06,"m":3.07},{"T":70,"f":6.77,"v":3.12,"m":3.14},{"T":70,"f":6.85,"v":3.17,"m":3.18},{"T":70,"f":7,"v":3.18,"m":3.2},{"T":70,"f":7.15,"v":3.18,"m":3.19},{"T":70,"f":7.3,"v":3.18,"m":3.2},{"T":70,"f":7.45,"v":3.18,"m":3.19},{"T":70,"f":7.5,"v":3.18,"m":3.2},
{"T":95,"f":0,"v":3.16},{"T":95,"f":0.1,"v":3.15},{"T":95,"f":0.4,"v":3.12},{"T":95,"f":0.8,"v":3.085,"m":3.08},{"T":95,"f":1,"v":3.07,"m":3.06},{"T":95,"f":1.27,"v":3.03,"m":3.03},{"T":95,"f":1.4,"v":3.01,"m":3.01},{"T":95,"f":1.55,"v":2.98,"m":2.97},{"T":95,"f":1.65,"v":2.95,"m":2.94},{"T":95,"f":1.72,"v":2.91,"m":2.91},{"T":95,"f":1.77,"v":2.88,"m":2.88},{"T":95,"f":1.8,"v":2.95,"m":2.96},{"T":95,"f":1.84,"v":3.1,"m":3.11},{"T":95,"f":1.9,"v":3.15,"m":3.16},{"T":95,"f":2.05,"v":3.16,"m":3.17},{"T":95,"f":2.15,"v":3.15,"m":3.15},{"T":95,"f":2.2,"v":3.08,"m":3.08},{"T":95,"f":2.23,"v":2.96,"m":2.98},{"T":95,"f":2.27,"v":3.08,"m":3.1},{"T":95,"f":2.32,"v":3.15,"m":3.15},{"T":95,"f":2.45,"v":3.16,"m":3.16},{"T":95,"f":2.52,"v":3.08,"m":3.08},{"T":95,"f":2.55,"v":2.99,"m":3},{"T":95,"f":2.58,"v":3,"m":3},{"T":95,"f":2.61,"v":2.91,"m":2.92},{"T":95,"f":2.65,"v":3.05,"m":3.06},{"T":95,"f":2.7,"v":3.14,"m":3.15},{"T":95,"f":2.8,"v":3.17,"m":3.17},{"T":95,"f":3,"v":3.17,"m":3.17},{"T":95,"f":3.15,"v":3.17,"m":3.17},{"T":95,"f":3.25,"v":3.15,"m":3.15},{"T":95,"f":3.32,"v":3.12,"m":3.12},{"T":95,"f":3.4,"v":3.14,"m":3.13},{"T":95,"f":3.48,"v":3.1,"m":3.1},{"T":95,"f":3.55,"v":3.12,"m":3.11},{"T":95,"f":3.62,"v":3.06,"m":3.06},{"T":95,"f":3.68,"v":3.08,"m":3.08},{"T":95,"f":3.74,"v":3,"m":2.99},{"T":95,"f":3.78,"v":2.98,"m":2.98},{"T":95,"f":3.83,"v":3.06,"m":3.06},{"T":95,"f":3.9,"v":3.04,"m":3.04},{"T":95,"f":3.95,"v":3.02,"m":3.02},{"T":95,"f":4.02,"v":2.98,"m":2.98},{"T":95,"f":4.08,"v":2.92,"m":2.92},{"T":95,"f":4.13,"v":2.86,"m":2.86},{"T":95,"f":4.16,"v":2.84,"m":2.83},{"T":95,"f":4.21,"v":2.98,"m":3},{"T":95,"f":4.28,"v":3.1,"m":3.1},{"T":95,"f":4.4,"v":3.12,"m":3.12},{"T":95,"f":4.52,"v":3.08,"m":3.08},{"T":95,"f":4.58,"v":3.02,"m":3.02},{"T":95,"f":4.63,"v":2.94,"m":2.94},{"T":95,"f":4.67,"v":2.96,"m":2.97},{"T":95,"f":4.72,"v":3.08,"m":3.05},{"T":95,"f":4.8,"v":3.14,"m":3.1},{"T":95,"f":4.95,"v":3.15,"m":3.1},{"T":95,"f":5.1,"v":3.15,"m":3.11},{"T":95,"f":5.22,"v":3.13,"m":3.12},{"T":95,"f":5.28,"v":3.07,"m":3.08},{"T":95,"f":5.32,"v":3.08,"m":3.09},{"T":95,"f":5.4,"v":3.12,"m":3.12},{"T":95,"f":5.48,"v":3.08,"m":3.08},{"T":95,"f":5.53,"v":3.03,"m":3.03},{"T":95,"f":5.6,"v":3.1,"m":3.1},{"T":95,"f":5.66,"v":3.08,"m":3.08},{"T":95,"f":5.71,"v":3.05,"m":3.05},{"T":95,"f":5.77,"v":3.08,"m":3.08},{"T":95,"f":5.84,"v":3.06,"m":3.06},{"T":95,"f":5.9,"v":2.96,"m":2.96},{"T":95,"f":5.95,"v":3.06,"m":3.06},{"T":95,"f":6.02,"v":3.12,"m":3.12},{"T":95,"f":6.15,"v":3.14,"m":3.15},{"T":95,"f":6.3,"v":3.15,"m":3.18},{"T":95,"f":6.45,"v":3.15,"m":3.16},{"T":95,"f":6.6,"v":3.14,"m":3.17},{"T":95,"f":6.68,"v":3.1,"m":3.12},{"T":95,"f":6.73,"v":3.05,"m":3.06},{"T":95,"f":6.78,"v":3.1,"m":3.12},{"T":95,"f":6.87,"v":3.15,"m":3.17},{"T":95,"f":7,"v":3.16,"m":3.18},{"T":95,"f":7.15,"v":3.16,"m":3.15},{"T":95,"f":7.3,"v":3.16,"m":3.18},{"T":95,"f":7.45,"v":3.16,"m":3.14},{"T":95,"f":7.5,"v":3.16,"m":3.17},
{"T":120,"f":0,"v":3.15},{"T":120,"f":0.1,"v":3.14},{"T":120,"f":0.4,"v":3.12},{"T":120,"f":0.8,"v":3.1,"m":3.1},{"T":120,"f":1,"v":3.09,"m":3.09},{"T":120,"f":1.27,"v":3.07,"m":3.07},{"T":120,"f":1.4,"v":3.05,"m":3.05},{"T":120,"f":1.55,"v":3.02,"m":3.02},{"T":120,"f":1.65,"v":3,"m":3},{"T":120,"f":1.72,"v":2.99,"m":2.99},{"T":120,"f":1.78,"v":3.01,"m":3.01},{"T":120,"f":1.85,"v":3.07,"m":3.08},{"T":120,"f":1.95,"v":3.11,"m":3.12},{"T":120,"f":2.05,"v":3.12,"m":3.13},{"T":120,"f":2.13,"v":3.1,"m":3.1},{"T":120,"f":2.2,"v":3.01,"m":3.02},{"T":120,"f":2.25,"v":3.04,"m":3.05},{"T":120,"f":2.32,"v":3.11,"m":3.11},{"T":120,"f":2.42,"v":3.12,"m":3.12},{"T":120,"f":2.5,"v":3.08,"m":3.08},{"T":120,"f":2.55,"v":3,"m":3},{"T":120,"f":2.6,"v":3.02,"m":3.01},{"T":120,"f":2.66,"v":3.08,"m":3.08},{"T":120,"f":2.75,"v":3.11,"m":3.12},{"T":120,"f":2.9,"v":3.12,"m":3.13},{"T":120,"f":3.1,"v":3.12,"m":3.13},{"T":120,"f":3.3,"v":3.12,"m":3.12},{"T":120,"f":3.4,"v":3.1,"m":3.1},{"T":120,"f":3.5,"v":3.1,"m":3.1},{"T":120,"f":3.6,"v":3.07,"m":3.07},{"T":120,"f":3.7,"v":3.08,"m":3.08},{"T":120,"f":3.77,"v":3.05,"m":3.05},{"T":120,"f":3.85,"v":3.08,"m":3.08},{"T":120,"f":3.92,"v":3.06,"m":3.06},{"T":120,"f":4,"v":3.02,"m":3.02},{"T":120,"f":4.08,"v":2.96,"m":2.96},{"T":120,"f":4.13,"v":2.94,"m":2.94},{"T":120,"f":4.2,"v":3,"m":3},{"T":120,"f":4.3,"v":3.07,"m":3.07},{"T":120,"f":4.42,"v":3.07,"m":3.07},{"T":120,"f":4.52,"v":3.04,"m":3.04},{"T":120,"f":4.6,"v":2.98,"m":2.98},{"T":120,"f":4.66,"v":3,"m":3},{"T":120,"f":4.75,"v":3.08,"m":3.05},{"T":120,"f":4.85,"v":3.11,"m":3.06},{"T":120,"f":5,"v":3.12,"m":3.06},{"T":120,"f":5.12,"v":3.12,"m":3.08},{"T":120,"f":5.22,"v":3.1,"m":3.1},{"T":120,"f":5.29,"v":3.06,"m":3.06},{"T":120,"f":5.36,"v":3.09,"m":3.09},{"T":120,"f":5.45,"v":3.09,"m":3.09},{"T":120,"f":5.53,"v":3.04,"m":3.04},{"T":120,"f":5.62,"v":3.08,"m":3.08},{"T":120,"f":5.7,"v":3.05,"m":3.05},{"T":120,"f":5.78,"v":3.08,"m":3.08},{"T":120,"f":5.86,"v":3.04,"m":3.03},{"T":120,"f":5.91,"v":3.02,"m":3.02},{"T":120,"f":5.98,"v":3.08,"m":3.08},{"T":120,"f":6.1,"v":3.11,"m":3.11},{"T":120,"f":6.27,"v":3.12,"m":3.12},{"T":120,"f":6.45,"v":3.13,"m":3.13},{"T":120,"f":6.6,"v":3.13,"m":3.14},{"T":120,"f":6.73,"v":3.12,"m":3.14},{"T":120,"f":6.87,"v":3.13,"m":3.16},{"T":120,"f":7,"v":3.14,"m":3.17},{"T":120,"f":7.15,"v":3.14,"m":3.16},{"T":120,"f":7.3,"v":3.14,"m":3.18},{"T":120,"f":7.45,"v":3.14,"m":3.15},{"T":120,"f":7.5,"v":3.14,"m":3.17},
{"T":145,"f":0,"v":3.14},{"T":145,"f":0.2,"v":3.13},{"T":145,"f":0.5,"v":3.11},{"T":145,"f":0.8,"v":3.09,"m":3.1},{"T":145,"f":1,"v":3.08,"m":3.09},{"T":145,"f":1.27,"v":3.06,"m":3.06},{"T":145,"f":1.45,"v":3.04,"m":3.04},{"T":145,"f":1.6,"v":3.02,"m":3.02},{"T":145,"f":1.7,"v":3.01,"m":3.02},{"T":145,"f":1.8,"v":3.03,"m":3.04},{"T":145,"f":1.92,"v":3.07,"m":3.07},{"T":145,"f":2.01,"v":3.1,"m":3.09},{"T":145,"f":2.07,"v":3.09,"m":3.06},{"T":145,"f":2.12,"v":3.06,"m":3.02},{"T":145,"f":2.2,"v":3.06,"m":3.04},{"T":145,"f":2.26,"v":3.08,"m":3.04},{"T":145,"f":2.33,"v":3.09,"m":3.05},{"T":145,"f":2.4,"v":3.05,"m":3.02},{"T":145,"f":2.47,"v":3.01,"m":2.99},{"T":145,"f":2.55,"v":2.99,"m":2.99},{"T":145,"f":2.65,"v":3,"m":2.99},{"T":145,"f":2.8,"v":3.02,"m":3},{"T":145,"f":2.95,"v":3.04,"m":3.01},{"T":145,"f":3.05,"v":3.05,"m":3.02},{"T":145,"f":3.2,"v":3.04,"m":3.02},{"T":145,"f":3.35,"v":3.02,"m":3.02},{"T":145,"f":3.5,"v":3.02,"m":3.01},{"T":145,"f":3.6,"v":2.99,"m":3},{"T":145,"f":3.7,"v":3.01,"m":3.01},{"T":145,"f":3.8,"v":3.02,"m":3.02},{"T":145,"f":3.9,"v":2.99,"m":3},{"T":145,"f":4,"v":2.96,"m":3},{"T":145,"f":4.1,"v":2.92,"m":2.99},{"T":145,"f":4.15,"v":2.91,"m":2.98},{"T":145,"f":4.25,"v":2.94,"m":3},{"T":145,"f":4.32,"v":2.96,"m":3.01},{"T":145,"f":4.42,"v":2.96,"m":3.02},{"T":145,"f":4.52,"v":2.92,"m":3.02},{"T":145,"f":4.62,"v":2.9,"m":3.03},{"T":145,"f":4.7,"v":2.92,"m":3.04},{"T":145,"f":4.8,"v":2.98,"m":3.06},{"T":145,"f":4.95,"v":3.06,"m":3.08},{"T":145,"f":5.1,"v":3.09,"m":3.09},{"T":145,"f":5.25,"v":3.08,"m":3.08},{"T":145,"f":5.35,"v":3.05,"m":3.06},{"T":145,"f":5.45,"v":3.08,"m":3.08},{"T":145,"f":5.55,"v":3.06,"m":3.06},{"T":145,"f":5.65,"v":3.07,"m":3.07},{"T":145,"f":5.75,"v":3.05,"m":3.05},{"T":145,"f":5.85,"v":3.03,"m":3.03},{"T":145,"f":5.95,"v":3.07,"m":3.07},{"T":145,"f":6.1,"v":3.09,"m":3.09},{"T":145,"f":6.27,"v":3.1,"m":3.11},{"T":145,"f":6.45,"v":3.12,"m":3.12},{"T":145,"f":6.6,"v":3.12,"m":3.13},{"T":145,"f":6.75,"v":3.13,"m":3.14},{"T":145,"f":6.9,"v":3.13,"m":3.15},{"T":145,"f":7.05,"v":3.13,"m":3.16},{"T":145,"f":7.2,"v":3.14,"m":3.17},{"T":145,"f":7.35,"v":3.14,"m":3.15},{"T":145,"f":7.5,"v":3.14,"m":3.17}]
},
"hconcat":[
{"title":{"text":"Reflection intensity","fontSize":13.5,"fontWeight":"bold","color":"#000000","offset":-3,"anchor":"middle","dx":24},
"spacing":0,"bounds":"flush",
"vconcat":[
{"width":356,"height":49,
"layer":[
{"data":{"name":"modes"},"transform":[{"filter":"datum.T==20"}],"mark":{"type":"rule","color":"#ff00ff","strokeWidth":1.5,"strokeDash":[1.5,1.5]},"encoding":{"x":{"field":"f","type":"quantitative","title":null}}},
{"data":{"name":"R"},"transform":[{"filter":"datum.T==20 && isValid(datum.m)"}],"mark":{"type":"point","shape":"circle","filled":true,"size":11,"color":"#0000ff","opacity":1},"encoding":{"x":{"field":"f","type":"quantitative","title":null,"scale":{"domain":[0,7.5],"nice":false},"axis":{"values":[0,1,2,3,4,5,6,7],"tickCount":12,"labels":false,"labelFlush":false,"labelOverlap":false}},"y":{"field":"m","type":"quantitative","title":"R(ν)","scale":{"domain":[0.25,1.12],"nice":false,"zero":false},"axis":{"values":[0.25,0.5,0.75,1],"tickCount":12,"format":".2~f","labelPadding":6,"titlePadding":0,"labelOverlap":false,"labelFlush":false}}}},
{"data":{"name":"R"},"transform":[{"filter":"datum.T==20"}],"mark":{"type":"line","color":"#ff0000","strokeWidth":2.5},"encoding":{"x":{"field":"f","type":"quantitative","title":null},"y":{"field":"v","type":"quantitative","title":"R(ν)"}}},
{"data":{"values":[{"label":"T=20 K"}]},"mark":{"type":"text","align":"left","baseline":"middle","fontSize":12.5,"color":"#000000"},"encoding":{"x":{"datum":0.24,"type":"quantitative"},"y":{"datum":0.47,"type":"quantitative"},"text":{"field":"label","type":"nominal"}}}]},
{"width":356,"height":49,
"layer":[
{"data":{"name":"modes"},"transform":[{"filter":"datum.T==70"}],"mark":{"type":"rule","color":"#ff00ff","strokeWidth":1.5,"strokeDash":[1.5,1.5]},"encoding":{"x":{"field":"f","type":"quantitative","title":null}}},
{"data":{"name":"R"},"transform":[{"filter":"datum.T==70 && isValid(datum.m)"}],"mark":{"type":"point","shape":"circle","filled":true,"size":11,"color":"#0000ff","opacity":1},"encoding":{"x":{"field":"f","type":"quantitative","title":null,"scale":{"domain":[0,7.5],"nice":false},"axis":{"values":[0,1,2,3,4,5,6,7],"tickCount":12,"labels":false,"labelFlush":false,"labelOverlap":false}},"y":{"field":"m","type":"quantitative","title":null,"scale":{"domain":[0.25,1.12],"nice":false,"zero":false},"axis":{"values":[0.25,0.5,0.75,1],"tickCount":12,"format":".2~f","labelPadding":6,"labelOverlap":false,"labelFlush":false,"labelExpr":"datum.value==1?'':datum.label"}}}},
{"data":{"name":"R"},"transform":[{"filter":"datum.T==70"}],"mark":{"type":"line","color":"#ff0000","strokeWidth":2.5},"encoding":{"x":{"field":"f","type":"quantitative","title":null},"y":{"field":"v","type":"quantitative","title":null}}},
{"data":{"values":[{"label":"T=70 K"}]},"mark":{"type":"text","align":"left","baseline":"middle","fontSize":12.5,"color":"#000000"},"encoding":{"x":{"datum":0.24,"type":"quantitative"},"y":{"datum":0.47,"type":"quantitative"},"text":{"field":"label","type":"nominal"}}}]},
{"width":356,"height":49,
"layer":[
{"data":{"name":"modes"},"transform":[{"filter":"datum.T==95"}],"mark":{"type":"rule","color":"#ff00ff","strokeWidth":1.5,"strokeDash":[1.5,1.5]},"encoding":{"x":{"field":"f","type":"quantitative","title":null}}},
{"data":{"name":"R"},"transform":[{"filter":"datum.T==95 && isValid(datum.m)"}],"mark":{"type":"point","shape":"circle","filled":true,"size":11,"color":"#0000ff","opacity":1},"encoding":{"x":{"field":"f","type":"quantitative","title":null,"scale":{"domain":[0,7.5],"nice":false},"axis":{"values":[0,1,2,3,4,5,6,7],"tickCount":12,"labels":false,"labelFlush":false,"labelOverlap":false}},"y":{"field":"m","type":"quantitative","title":null,"scale":{"domain":[0.25,1.12],"nice":false,"zero":false},"axis":{"values":[0.25,0.5,0.75,1],"tickCount":12,"format":".2~f","labelPadding":6,"labelOverlap":false,"labelFlush":false,"labelExpr":"datum.value==1?'':datum.label"}}}},
{"data":{"name":"R"},"transform":[{"filter":"datum.T==95"}],"mark":{"type":"line","color":"#ff0000","strokeWidth":2.5},"encoding":{"x":{"field":"f","type":"quantitative","title":null},"y":{"field":"v","type":"quantitative","title":null}}},
{"data":{"values":[{"label":"T=95 K"}]},"mark":{"type":"text","align":"left","baseline":"middle","fontSize":12.5,"color":"#000000"},"encoding":{"x":{"datum":0.24,"type":"quantitative"},"y":{"datum":0.47,"type":"quantitative"},"text":{"field":"label","type":"nominal"}}}]},
{"width":356,"height":49,
"layer":[
{"data":{"name":"modes"},"transform":[{"filter":"datum.T==120"}],"mark":{"type":"rule","color":"#ff00ff","strokeWidth":1.5,"strokeDash":[1.5,1.5]},"encoding":{"x":{"field":"f","type":"quantitative","title":null}}},
{"data":{"name":"R"},"transform":[{"filter":"datum.T==120 && isValid(datum.m)"}],"mark":{"type":"point","shape":"circle","filled":true,"size":11,"color":"#0000ff","opacity":1},"encoding":{"x":{"field":"f","type":"quantitative","title":null,"scale":{"domain":[0,7.5],"nice":false},"axis":{"values":[0,1,2,3,4,5,6,7],"tickCount":12,"labels":false,"labelFlush":false,"labelOverlap":false}},"y":{"field":"m","type":"quantitative","title":null,"scale":{"domain":[0.25,1.12],"nice":false,"zero":false},"axis":{"values":[0.25,0.5,0.75,1],"tickCount":12,"format":".2~f","labelPadding":6,"labelOverlap":false,"labelFlush":false,"labelExpr":"datum.value==1?'':datum.label"}}}},
{"data":{"name":"R"},"transform":[{"filter":"datum.T==120"}],"mark":{"type":"line","color":"#ff0000","strokeWidth":2.5},"encoding":{"x":{"field":"f","type":"quantitative","title":null},"y":{"field":"v","type":"quantitative","title":null}}},
{"data":{"values":[{"label":"T=120 K"}]},"mark":{"type":"text","align":"left","baseline":"middle","fontSize":12.5,"color":"#000000"},"encoding":{"x":{"datum":0.24,"type":"quantitative"},"y":{"datum":0.47,"type":"quantitative"},"text":{"field":"label","type":"nominal"}}}]},
{"width":356,"height":49,
"layer":[
{"data":{"name":"modes"},"transform":[{"filter":"datum.T==145"}],"mark":{"type":"rule","color":"#ff00ff","strokeWidth":1.5,"strokeDash":[1.5,1.5]},"encoding":{"x":{"field":"f","type":"quantitative","title":"ν (THz)"}}},
{"data":{"name":"R"},"transform":[{"filter":"datum.T==145 && isValid(datum.m)"}],"mark":{"type":"point","shape":"circle","filled":true,"size":11,"color":"#0000ff","opacity":1},"encoding":{"x":{"field":"f","type":"quantitative","title":"ν (THz)","scale":{"domain":[0,7.5],"nice":false},"axis":{"values":[0,1,2,3,4,5,6,7],"tickCount":12,"format":"d","labelPadding":8,"titlePadding":4,"labelFlush":false,"labelOverlap":false}},"y":{"field":"m","type":"quantitative","title":null,"scale":{"domain":[0.25,1.12],"nice":false,"zero":false},"axis":{"values":[0.25,0.5,0.75,1],"tickCount":12,"format":".2~f","labelPadding":6,"labelOverlap":false,"labelFlush":false,"labelExpr":"datum.value==1?'':datum.label"}}}},
{"data":{"name":"R"},"transform":[{"filter":"datum.T==145"}],"mark":{"type":"line","color":"#ff0000","strokeWidth":2.5},"encoding":{"x":{"field":"f","type":"quantitative","title":"ν (THz)"},"y":{"field":"v","type":"quantitative","title":null}}},
{"data":{"values":[{"label":"T=145 K"}]},"mark":{"type":"text","align":"left","baseline":"middle","fontSize":12.5,"color":"#000000"},"encoding":{"x":{"datum":0.24,"type":"quantitative"},"y":{"datum":0.47,"type":"quantitative"},"text":{"field":"label","type":"nominal"}}}]}
]},
{"title":{"text":"Reflection phase","fontSize":13.5,"fontWeight":"bold","color":"#000000","offset":-3,"anchor":"middle","dx":-23},
"spacing":0,"bounds":"flush",
"vconcat":[
{"width":355,"height":49,
"layer":[
{"data":{"name":"modes"},"transform":[{"filter":"datum.T==20"}],"mark":{"type":"rule","color":"#ff00ff","strokeWidth":1.5,"strokeDash":[1.5,1.5]},"encoding":{"x":{"field":"f","type":"quantitative","title":null}}},
{"data":{"name":"P"},"transform":[{"filter":"datum.T==20 && isValid(datum.m)"}],"mark":{"type":"point","shape":"circle","filled":true,"size":11,"color":"#0000ff","opacity":1},"encoding":{"x":{"field":"f","type":"quantitative","title":null,"scale":{"domain":[0,7.5],"nice":false},"axis":{"values":[0,1,2,3,4,5,6,7],"tickCount":12,"labels":false,"labelFlush":false,"labelOverlap":false}},"y":{"field":"m","type":"quantitative","title":"φ(ν) (rad.)","scale":{"domain":[2.54,3.2],"nice":false,"zero":false},"axis":{"orient":"right","values":[2.6,2.8,3,3.2],"tickCount":12,"format":".1~f","labelPadding":7,"titlePadding":5,"labelOverlap":false,"labelFlush":false}}}},
{"data":{"name":"P"},"transform":[{"filter":"datum.T==20"}],"mark":{"type":"line","color":"#ff0000","strokeWidth":2.5},"encoding":{"x":{"field":"f","type":"quantitative","title":null},"y":{"field":"v","type":"quantitative","title":"φ(ν) (rad.)"}}}]},
{"width":355,"height":49,
"layer":[
{"data":{"name":"modes"},"transform":[{"filter":"datum.T==70"}],"mark":{"type":"rule","color":"#ff00ff","strokeWidth":1.5,"strokeDash":[1.5,1.5]},"encoding":{"x":{"field":"f","type":"quantitative","title":null}}},
{"data":{"name":"P"},"transform":[{"filter":"datum.T==70 && isValid(datum.m)"}],"mark":{"type":"point","shape":"circle","filled":true,"size":11,"color":"#0000ff","opacity":1},"encoding":{"x":{"field":"f","type":"quantitative","title":null,"scale":{"domain":[0,7.5],"nice":false},"axis":{"values":[0,1,2,3,4,5,6,7],"tickCount":12,"labels":false,"labelFlush":false,"labelOverlap":false}},"y":{"field":"m","type":"quantitative","title":null,"scale":{"domain":[2.54,3.2],"nice":false,"zero":false},"axis":{"orient":"right","values":[2.6,2.8,3,3.2],"tickCount":12,"format":".1~f","labelPadding":7,"labelOverlap":false,"labelFlush":false,"labelExpr":"datum.value==3.2?'':datum.label"}}}},
{"data":{"name":"P"},"transform":[{"filter":"datum.T==70"}],"mark":{"type":"line","color":"#ff0000","strokeWidth":2.5},"encoding":{"x":{"field":"f","type":"quantitative","title":null},"y":{"field":"v","type":"quantitative","title":null}}}]},
{"width":355,"height":49,
"layer":[
{"data":{"name":"modes"},"transform":[{"filter":"datum.T==95"}],"mark":{"type":"rule","color":"#ff00ff","strokeWidth":1.5,"strokeDash":[1.5,1.5]},"encoding":{"x":{"field":"f","type":"quantitative","title":null}}},
{"data":{"name":"P"},"transform":[{"filter":"datum.T==95 && isValid(datum.m)"}],"mark":{"type":"point","shape":"circle","filled":true,"size":11,"color":"#0000ff","opacity":1},"encoding":{"x":{"field":"f","type":"quantitative","title":null,"scale":{"domain":[0,7.5],"nice":false},"axis":{"values":[0,1,2,3,4,5,6,7],"tickCount":12,"labels":false,"labelFlush":false,"labelOverlap":false}},"y":{"field":"m","type":"quantitative","title":null,"scale":{"domain":[2.54,3.2],"nice":false,"zero":false},"axis":{"orient":"right","values":[2.6,2.8,3,3.2],"tickCount":12,"format":".1~f","labelPadding":7,"labelOverlap":false,"labelFlush":false,"labelExpr":"datum.value==3.2?'':datum.label"}}}},
{"data":{"name":"P"},"transform":[{"filter":"datum.T==95"}],"mark":{"type":"line","color":"#ff0000","strokeWidth":2.5},"encoding":{"x":{"field":"f","type":"quantitative","title":null},"y":{"field":"v","type":"quantitative","title":null}}}]},
{"width":355,"height":49,
"layer":[
{"data":{"name":"modes"},"transform":[{"filter":"datum.T==120"}],"mark":{"type":"rule","color":"#ff00ff","strokeWidth":1.5,"strokeDash":[1.5,1.5]},"encoding":{"x":{"field":"f","type":"quantitative","title":null}}},
{"data":{"name":"P"},"transform":[{"filter":"datum.T==120 && isValid(datum.m)"}],"mark":{"type":"point","shape":"circle","filled":true,"size":11,"color":"#0000ff","opacity":1},"encoding":{"x":{"field":"f","type":"quantitative","title":null,"scale":{"domain":[0,7.5],"nice":false},"axis":{"values":[0,1,2,3,4,5,6,7],"tickCount":12,"labels":false,"labelFlush":false,"labelOverlap":false}},"y":{"field":"m","type":"quantitative","title":null,"scale":{"domain":[2.54,3.2],"nice":false,"zero":false},"axis":{"orient":"right","values":[2.6,2.8,3,3.2],"tickCount":12,"format":".1~f","labelPadding":7,"labelOverlap":false,"labelFlush":false,"labelExpr":"datum.value==3.2?'':datum.label"}}}},
{"data":{"name":"P"},"transform":[{"filter":"datum.T==120"}],"mark":{"type":"line","color":"#ff0000","strokeWidth":2.5},"encoding":{"x":{"field":"f","type":"quantitative","title":null},"y":{"field":"v","type":"quantitative","title":null}}}]},
{"width":355,"height":49,
"layer":[
{"data":{"name":"modes"},"transform":[{"filter":"datum.T==145"}],"mark":{"type":"rule","color":"#ff00ff","strokeWidth":1.5,"strokeDash":[1.5,1.5]},"encoding":{"x":{"field":"f","type":"quantitative","title":"ν (THz)"}}},
{"data":{"name":"P"},"transform":[{"filter":"datum.T==145 && isValid(datum.m)"}],"mark":{"type":"point","shape":"circle","filled":true,"size":11,"color":"#0000ff","opacity":1},"encoding":{"x":{"field":"f","type":"quantitative","title":"ν (THz)","scale":{"domain":[0,7.5],"nice":false},"axis":{"values":[0,1,2,3,4,5,6,7],"tickCount":12,"format":"d","labelPadding":8,"titlePadding":4,"labelFlush":false,"labelOverlap":false}},"y":{"field":"m","type":"quantitative","title":null,"scale":{"domain":[2.54,3.2],"nice":false,"zero":false},"axis":{"orient":"right","values":[2.6,2.8,3,3.2],"tickCount":12,"format":".1~f","labelPadding":7,"labelOverlap":false,"labelFlush":false,"labelExpr":"datum.value==3.2?'':datum.label"}}}},
{"data":{"name":"P"},"transform":[{"filter":"datum.T==145"}],"mark":{"type":"line","color":"#ff0000","strokeWidth":2.5},"encoding":{"x":{"field":"f","type":"quantitative","title":"ν (THz)"},"y":{"field":"v","type":"quantitative","title":null}}}]}
]}
],
"spacing":23
}
